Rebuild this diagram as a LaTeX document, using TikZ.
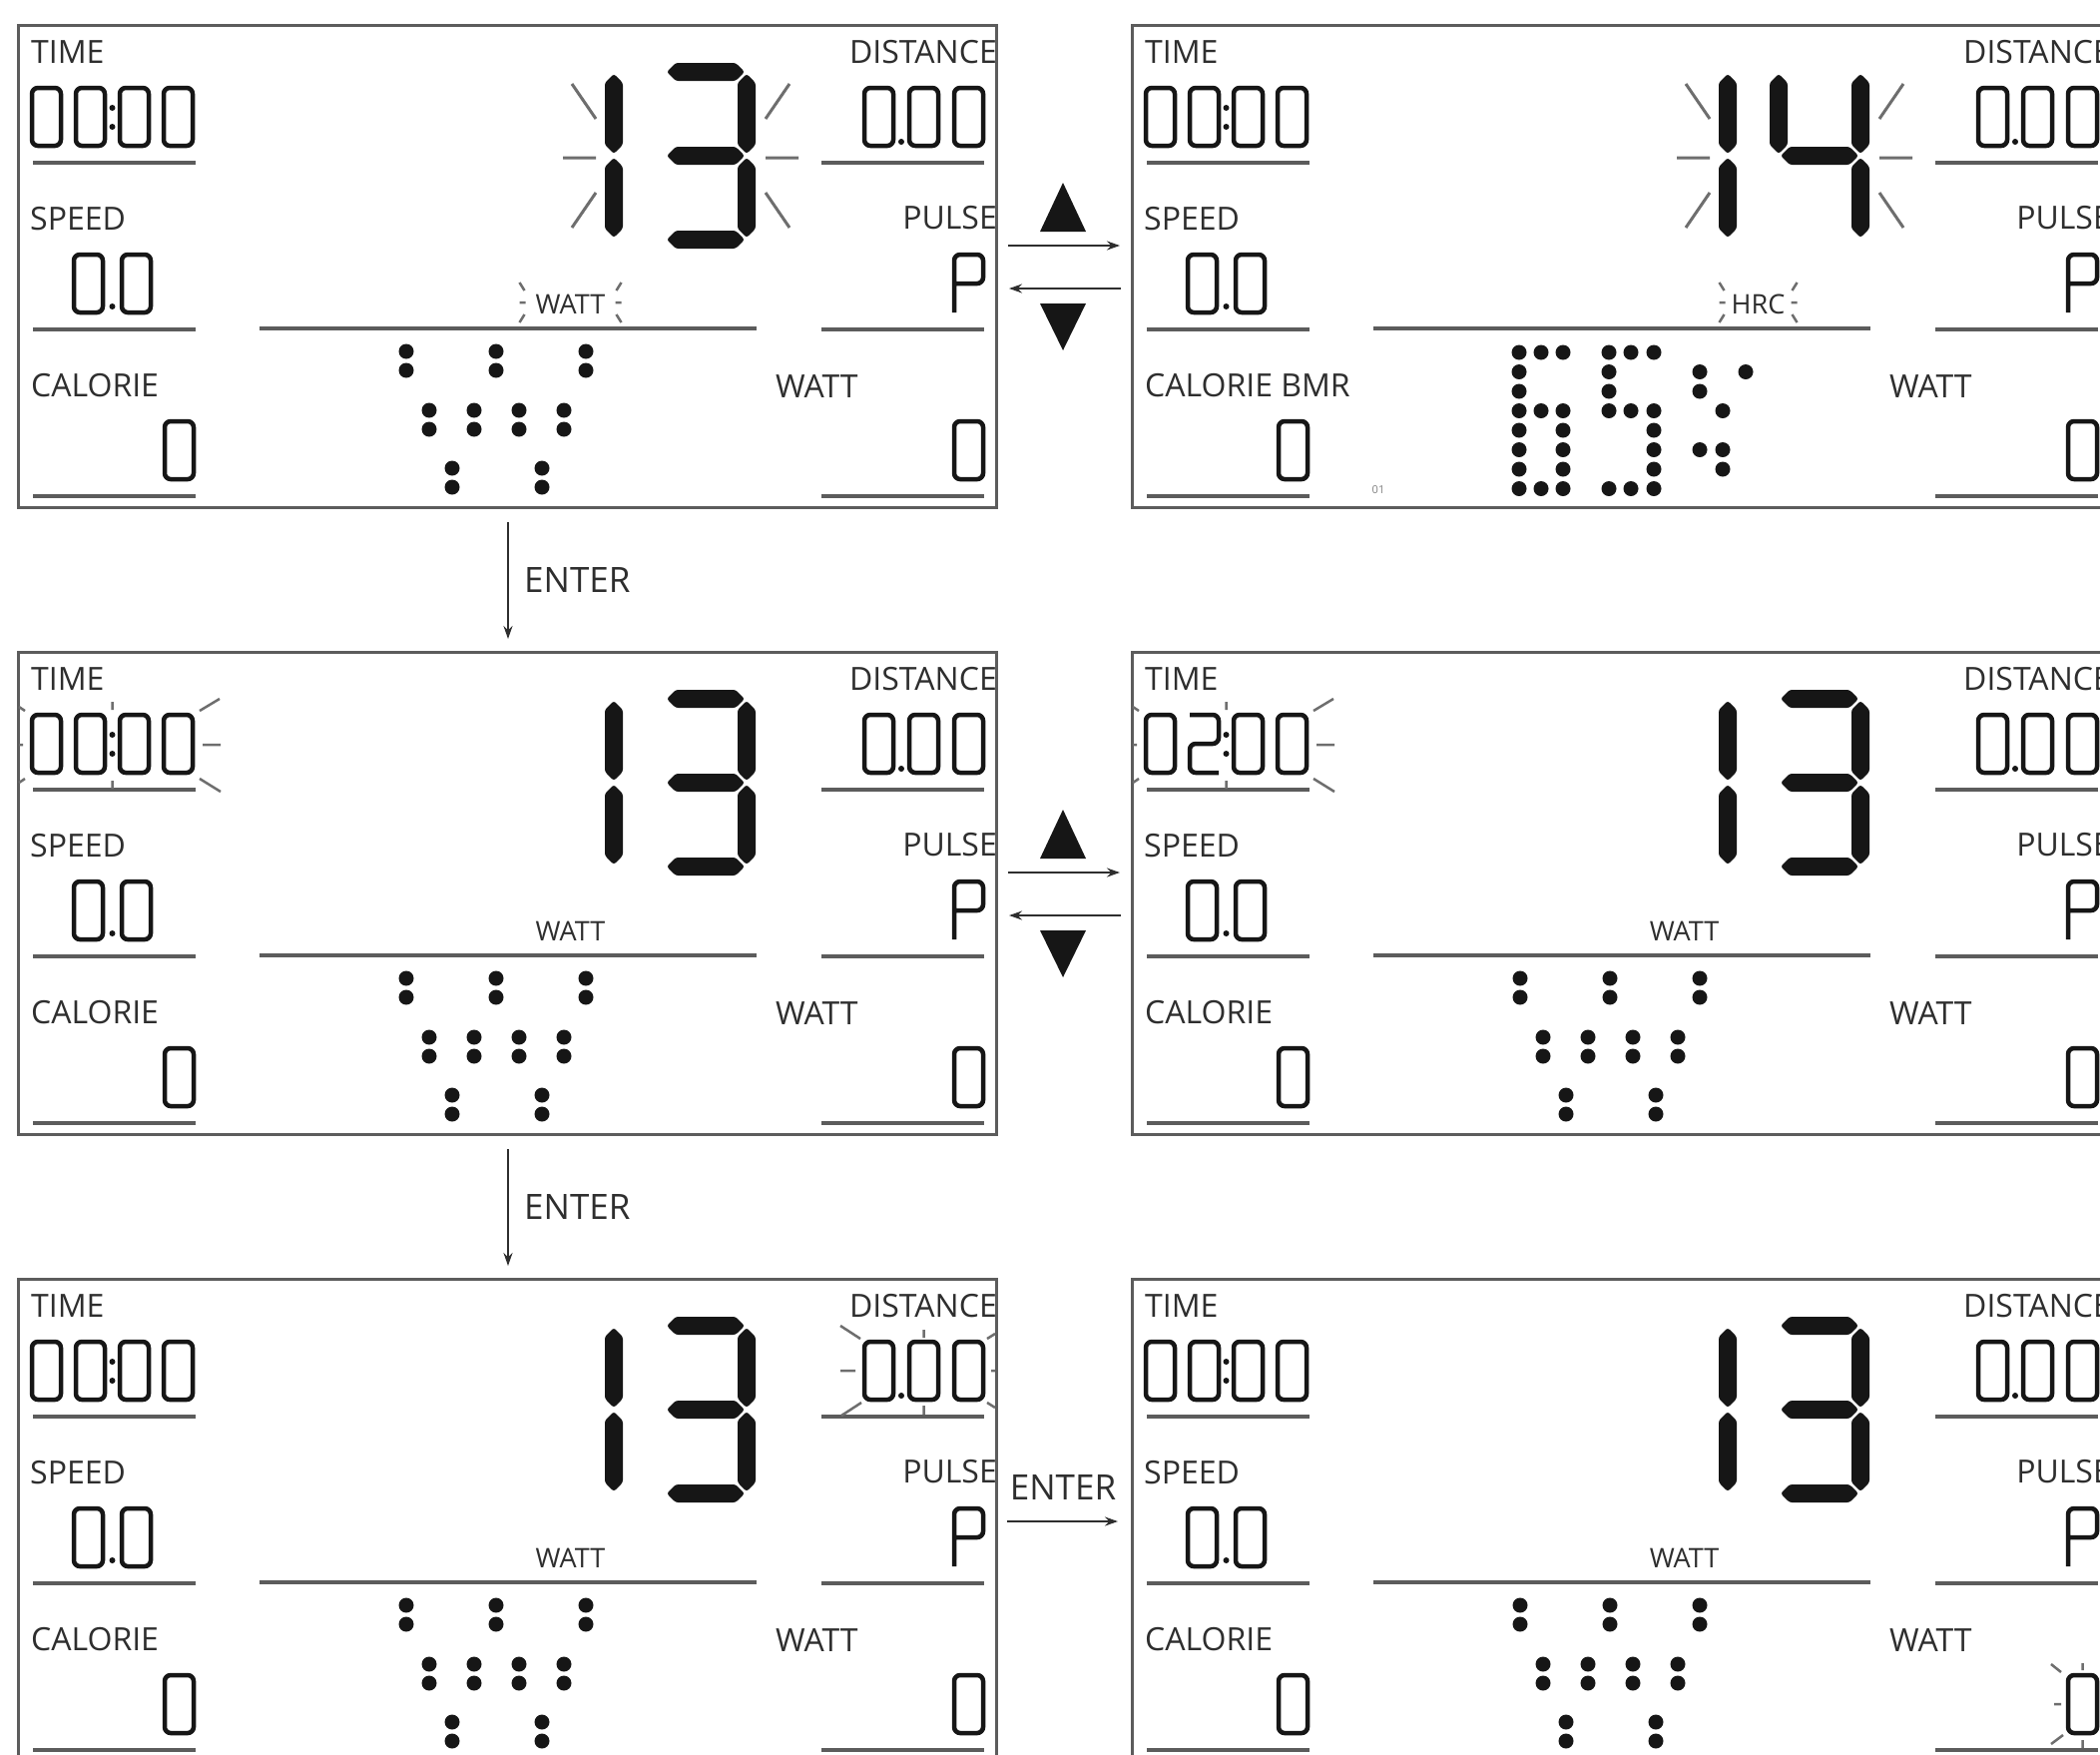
\documentclass[tikz,border=0pt]{standalone}
\usepackage{fontspec}
\setmainfont{Open Sans}
\usetikzlibrary{arrows.meta,calc}
\definecolor{ink}{HTML}{161616}
\definecolor{txt}{HTML}{2E2E2E}
\definecolor{rulec}{HTML}{5C5C5C}
\definecolor{rayc}{HTML}{6E6E6E}
\tikzset{
 panelbox/.style={draw=rulec, line width=3pt, minimum width=980pt, minimum height=483pt, inner sep=0pt, outer sep=0pt},
 lbl/.style={font=\fontsize{32}{32}\selectfont, text=txt, inner sep=0pt},
 slbl/.style={font=\fontsize{27}{27}\selectfont, text=txt, inner sep=0pt},
 elbl/.style={font=\fontsize{35}{35}\selectfont, text=txt, inner sep=0pt},
 ul/.style={draw=rulec, line width=3.5pt},
 od/.style={draw=ink, line width=4.5pt, rounded corners=6pt},
 seg/.style={fill=ink, rounded corners=2.5pt},
 rayl/.style={draw=rayc, line width=3pt},
 tickl/.style={draw=rayc, line width=2.5pt},
 conn/.style={draw=txt, line width=2pt, -{Stealth[length=13pt,width=9pt]}},
 tri/.style={fill=ink},
}
% seven-segment big digit segments
\newcommand\HS[3]{\fill[seg] (#1+2,#3) -- (#1+11,#3-9) -- (#2-11,#3-9) -- (#2-2,#3) -- (#2-11,#3+9) -- (#1+11,#3+9) -- cycle;}
\newcommand\VS[3]{\fill[seg] (#1,#2+2) -- (#1+9,#2+11) -- (#1+9,#3-11) -- (#1,#3-2) -- (#1-9,#3-11) -- (#1-9,#2+11) -- cycle;}
\newcommand\BigOne{\VS{597}{47}{131}\VS{597}{131}{215}}
\newcommand\BigThree{\HS{648}{730}{47}\HS{648}{730}{131}\HS{648}{730}{215}\VS{730}{47}{131}\VS{730}{131}{215}}
\newcommand\BigFour{\VS{648}{47}{131}\HS{648}{730}{131}\VS{730}{47}{131}\VS{730}{131}{215}}
\newcommand\BigRays{\draw[rayl] (555,59)--(579,94) (546,133)--(579,133) (555,203)--(579,168) (773,59)--(749,94) (749,133)--(782,133) (749,168)--(773,203);}
% outline digits
\newcommand\OZ[2]{\draw[od] (#1,#2) rectangle ++(29,58);}
\newcommand\OTwo[2]{\draw[od] (#1,#2) -- ++(29,0) -- ++(0,29) -- ++(-29,0) -- ++(0,29) -- ++(29,0);}
\newcommand\OP[2]{\draw[od] (#1,#2+58) -- (#1,#2) -- (#1+29,#2) -- (#1+29,#2+29) -- (#1,#2+29);}
\newcommand\Pt[2]{\fill[ink] (#1,#2) circle[radius=3pt];}
% panel base
\newcommand\PBase[2]{%
 \node[lbl,anchor=base west] at (13,38) {TIME};
 \node[lbl,anchor=base west] at (12,205) {SPEED};
 \node[lbl,anchor=base west] at (13,372) {#2};
 \node[lbl,anchor=base east] at (981,38) {DISTANCE};
 \node[lbl,anchor=base east] at (981,204) {PULSE};
 \node[lbl,anchor=base west] at (759,373) {WATT};
 \draw[ul] (15,138)--(178,138) (15,305)--(178,305) (15,472)--(178,472);
 \draw[ul] (805,138)--(968,138) (805,305)--(968,305) (805,472)--(968,472);
 \draw[ul] (242,304)--(740,304);
 \OZ{14}{63}#1{58}{63}\OZ{102}{63}\OZ{146}{63}\Pt{94.5}{83}\Pt{94.5}{102}
 \OZ{56}{230}\OZ{104}{230}\Pt{94.5}{282}
 \OZ{147}{397}
 \OZ{848}{63}\OZ{893}{63}\OZ{938}{63}\Pt{885}{117}
 \OP{938}{230}
 \OZ{938}{397}
}
\newcommand\FlashLbl[3]{%
 \node[slbl,anchor=base] at (#1,289) {#2};
 \draw[tickl] (#1-#3-3,258)--(#1-#3+2,266) (#1-#3-3,278)--(#1-#3+3,278) (#1-#3-3,298)--(#1-#3+2,290)
   (#1+#3+3,258)--(#1+#3-2,266) (#1+#3+3,278)--(#1+#3-3,278) (#1+#3+3,298)--(#1+#3-2,290);}
\newcommand\PlainWatt{\node[slbl,anchor=base] at (553.5,289) {WATT};}
\newcommand\YDots{%
 \foreach \xx in {389,479,569}{\fill[ink] (\xx,327) circle[radius=7.5pt] (\xx,346) circle[radius=7.5pt];}
 \foreach \xx in {412,457,502,547}{\fill[ink] (\xx,386) circle[radius=7.5pt] (\xx,405) circle[radius=7.5pt];}
 \foreach \xx in {435,525}{\fill[ink] (\xx,444) circle[radius=7.5pt] (\xx,463) circle[radius=7.5pt];}}
\newcommand\Dm[2]{\fill[ink] (#1,328+19.5*#2) circle[radius=7.5pt];}
\newcommand\Pct{%
 \foreach \cc in {388,410,432}{\Dm{\cc}{0}\Dm{\cc}{3}\Dm{\cc}{7}}
 \foreach \rr in {1,2,4,5,6}{\Dm{388}{\rr}}
 \foreach \rr in {4,5,6}{\Dm{432}{\rr}}
 \foreach \cc in {478,500,523}{\Dm{\cc}{0}\Dm{\cc}{3}\Dm{\cc}{7}}
 \foreach \rr in {1,2}{\Dm{478}{\rr}}
 \foreach \rr in {4,5,6}{\Dm{523}{\rr}}
 \Dm{569}{1}\Dm{569}{2}\Dm{615}{1}\Dm{592}{3}\Dm{569}{5}\Dm{592}{5}\Dm{592}{6}}
\newcommand\TimeFlash{\draw[tickl] (182,59)--(202,47) (185,93)--(203,93) (182,127)--(203,140)
  (94.5,50)--(94.5,58) (94.5,129)--(94.5,137) (1,55)--(7,59) (1,93)--(5,93) (1,131)--(7,127);}
\begin{document}
\begin{tikzpicture}[x=1pt,y=-1pt]
\useasboundingbox (0,0) rectangle (2104,1757);
\clip (0,0) rectangle (2104,1757);
\fill[white] (0,0) rectangle (2104,1757);
% Row 1 left
\begin{scope}[shift={(18,25)}]
 \node[panelbox] (pA) at (490,241.5) {};
 \PBase{\OZ}{CALORIE}
 \BigOne\BigThree\BigRays
 \FlashLbl{553.5}{WATT}{48}
 \YDots
\end{scope}
% Row 1 right
\begin{scope}[shift={(1134,25)}]
 \node[panelbox] (pB) at (490,241.5) {};
 \PBase{\OZ}{CALORIE BMR}
 \BigOne\BigFour\BigRays
 \FlashLbl{627.5}{HRC}{36}
 \Pct
 \node[font=\fontsize{11}{11}\selectfont, text=txt!60, inner sep=0pt] at (247,466) {01};
\end{scope}
% Row 2 left
\begin{scope}[shift={(18,653)}]
 \node[panelbox] (pC) at (490,241.5) {};
 \PBase{\OZ}{CALORIE}
 \BigOne\BigThree\PlainWatt\YDots\TimeFlash
\end{scope}
% Row 2 right
\begin{scope}[shift={(1134,653)}]
 \node[panelbox] (pD) at (490,241.5) {};
 \PBase{\OTwo}{CALORIE}
 \BigOne\BigThree\PlainWatt\YDots\TimeFlash
\end{scope}
% Row 3 left
\begin{scope}[shift={(18,1281)}]
 \node[panelbox] (pE) at (490,241.5) {};
 \PBase{\OZ}{CALORIE}
 \BigOne\BigThree\PlainWatt\YDots
 \draw[tickl] (824,47)--(844,60) (824,92)--(839,92) (825,137)--(845,124)
   (907.5,51)--(907.5,59) (907.5,127)--(907.5,136) (971,60)--(979,55) (975,92)--(979,92) (971,124)--(979,129);
\end{scope}
% Row 3 right
\begin{scope}[shift={(1134,1281)}]
 \node[panelbox] (pF) at (490,241.5) {};
 \PBase{\OZ}{CALORIE}
 \BigOne\BigThree\PlainWatt\YDots
 \draw[tickl] (921,386)--(931,394) (924,426)--(931,426) (921,466)--(933,457)
   (952.5,385)--(952.5,392) (952.5,462)--(952.5,470);
\end{scope}
% connectors row 1
\coordinate (yr1) at (0,246); \coordinate (yl1) at (0,289);
\draw[conn, shorten <=12pt, shorten >=12pt] (pA.east |- yr1) -- (pB.west |- yr1);
\draw[conn, shorten <=11pt, shorten >=13pt] (pB.west |- yl1) -- (pA.east |- yl1);
\fill[tri] (1042,232) -- (1088,232) -- (1065,183) -- cycle;
\fill[tri] (1042,304) -- (1088,304) -- (1065,351) -- cycle;
% connectors row 2
\coordinate (yr2) at (0,874); \coordinate (yl2) at (0,917);
\draw[conn, shorten <=12pt, shorten >=12pt] (pC.east |- yr2) -- (pD.west |- yr2);
\draw[conn, shorten <=11pt, shorten >=13pt] (pD.west |- yl2) -- (pC.east |- yl2);
\fill[tri] (1042,860) -- (1088,860) -- (1065,811) -- cycle;
\fill[tri] (1042,932) -- (1088,932) -- (1065,979) -- cycle;
% ENTER down arrows
\coordinate (ex) at (509,0);
\draw[conn, shorten <=15pt, shorten >=13pt] (pA.south -| ex) -- (pC.north -| ex);
\node[elbl, anchor=base west] (en1) at (525,593) {ENTER};
\draw[conn, shorten <=15pt, shorten >=13pt] (pC.south -| ex) -- (pE.north -| ex);
\node[elbl, anchor=base west] (en2) at (525,1221) {ENTER};
% ENTER right arrow row 3
\coordinate (ey) at (0,1524);
\draw[conn, shorten <=11pt, shorten >=14pt] (pE.east |- ey) -- (pF.west |- ey);
\node[elbl, anchor=base] (en3) at (1065,1502) {ENTER};
\end{tikzpicture}
\end{document}
